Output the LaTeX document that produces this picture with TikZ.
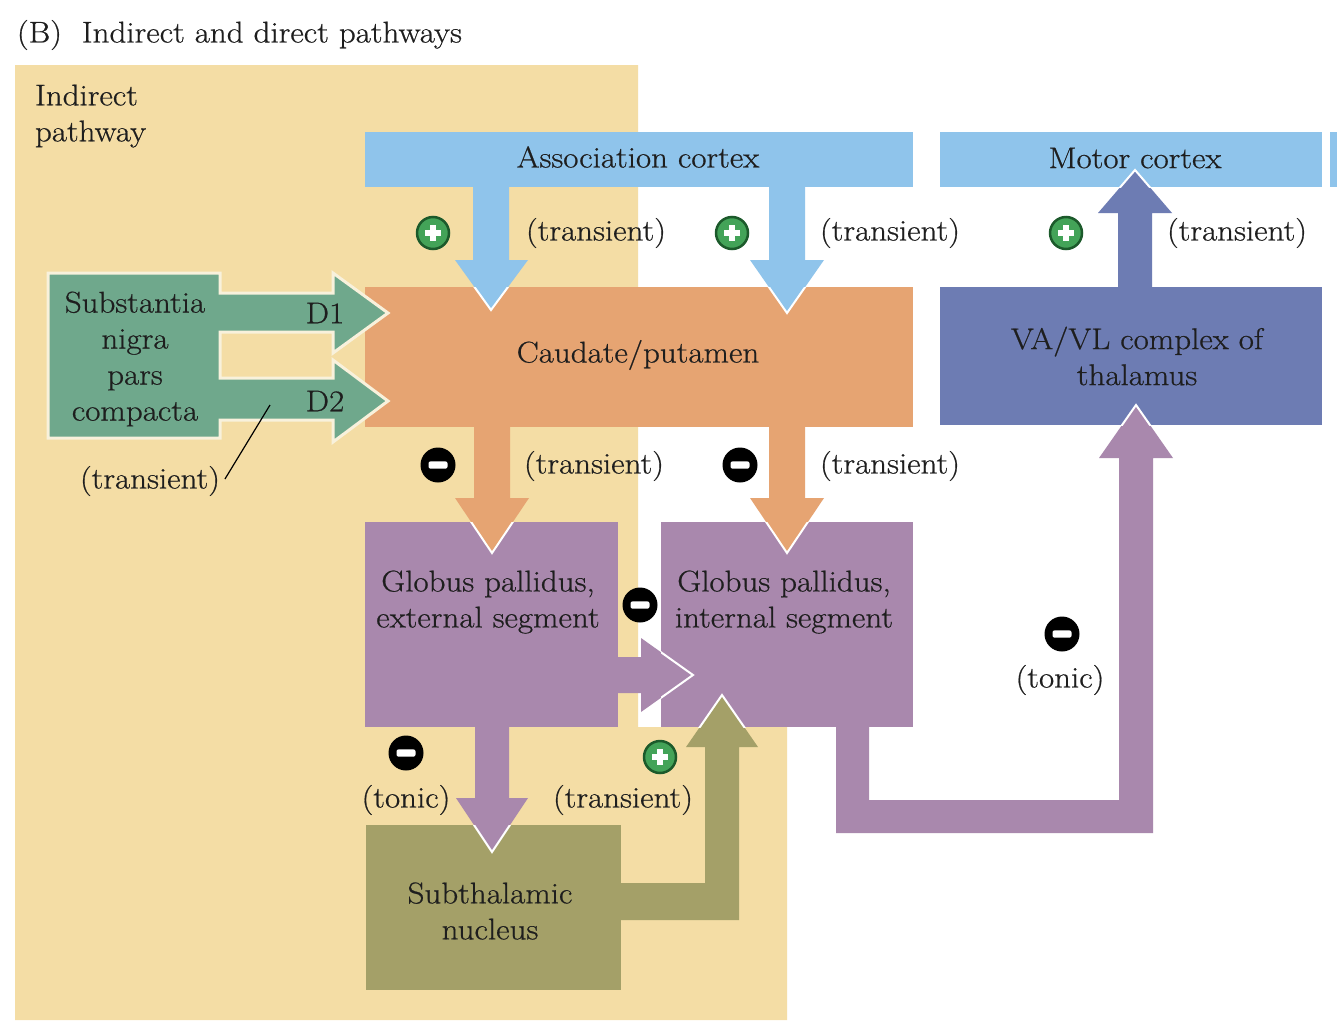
\documentclass[tikz,border=0pt]{standalone}
\usepackage{fontspec}
\setmainfont{Latin Modern Roman}[FakeStretch=1.1, FakeBold=0.6]
\usetikzlibrary{calc}
\definecolor{cTan}{HTML}{F4DDA5}
\definecolor{cBlue}{HTML}{8FC4EB}
\definecolor{cOrange}{HTML}{E6A472}
\definecolor{cPurple}{HTML}{A988AD}
\definecolor{cSlate}{HTML}{6D7CB3}
\definecolor{cGreen}{HTML}{6FA88C}
\definecolor{cOlive}{HTML}{A4A068}
\definecolor{cCream}{HTML}{F8F1DC}
\definecolor{cText}{HTML}{1E1E1E}
\definecolor{cGreenC}{HTML}{43A358}
\definecolor{cGreenD}{HTML}{1C5A2B}
\begin{document}
\begin{tikzpicture}[x=1pt,y=-1pt,
  every node/.style={inner sep=0pt, outer sep=0pt},
  lbl/.style={font=\fontsize{30}{36}\selectfont, text=cText, align=center},
  box/.style={rectangle, draw=none},
  edge/.style={white, line width=2pt, line join=miter},
  plusc/.style={circle, minimum size=32pt, fill=cGreenC, draw=cGreenD, line width=2.5pt,
    path picture={
      \fill[white] ($(path picture bounding box.center)+(-8,-3.2)$) rectangle ($(path picture bounding box.center)+(8,3.2)$);
      \fill[white] ($(path picture bounding box.center)+(-3.2,-8)$) rectangle ($(path picture bounding box.center)+(3.2,8)$);}},
  minusc/.style={circle, minimum size=35pt, fill=black,
    path picture={
      \fill[white, rounded corners=2pt] ($(path picture bounding box.center)+(-9.5,-3.6)$) rectangle ($(path picture bounding box.center)+(9.5,3.6)$);}}
]
\useasboundingbox (0,0) rectangle (1337,1020);
\fill[white] (0,0) rectangle (1337,1020);
% indirect pathway background
\fill[cTan] (15,65) -- (638,65) -- (638,727) -- (787,727) -- (787,1020) -- (15,1020) -- cycle;

% boxes
\node[box, fill=cBlue, minimum width=548pt, minimum height=55pt] (ac) at (639,159.5) {};
\node[box, fill=cBlue, minimum width=382pt, minimum height=55pt] (mc) at (1131,159.5) {};
\node[box, fill=cBlue, minimum width=8pt, minimum height=55pt] (mc2) at (1334,159.5) {};

% association cortex arrows
\fill[cBlue] (473,180) -- (509,180) -- (509,260) -- (528,260) -- (491,310) -- (455,260) -- (473,260) -- cycle;
\fill[cBlue] (769,180) -- (805,180) -- (805,260) -- (824,260) -- (787,313) -- (750,260) -- (769,260) -- cycle;

\node[box, fill=cOrange, minimum width=548pt, minimum height=140pt] (cp) at (639,357) {};
\node[box, fill=cSlate, minimum width=382pt, minimum height=138pt] (va) at (1131,356) {};

\begin{scope}
  \clip (cp.north west) rectangle (cp.south east);
  \fill[cBlue] (473,180) -- (509,180) -- (509,260) -- (528,260) -- (491,310) -- (455,260) -- (473,260) -- cycle;
  \fill[cBlue] (769,180) -- (805,180) -- (805,260) -- (824,260) -- (787,313) -- (750,260) -- (769,260) -- cycle;
  \draw[edge] (455,260) -- (491,310) -- (528,260);
  \draw[edge] (750,260) -- (787,313) -- (824,260);
\end{scope}

% VA/VL -> motor cortex
\fill[cSlate] (1118,295) -- (1118,213) -- (1098,213) -- (1135,170) -- (1172,213) -- (1152,213) -- (1152,295) -- cycle;
\begin{scope}
  \clip (mc.north west) rectangle (mc.south east);
  \draw[edge] (1098,213) -- (1135,170) -- (1172,213);
\end{scope}

% substantia nigra with D1 / D2 arrows
\filldraw[fill=cGreen, draw=cCream, line width=3pt, line join=miter]
  (48,273) -- (220,273) -- (220,293) -- (333,293) -- (333,273) -- (388,313) -- (333,353) -- (333,332)
  -- (220,332) -- (220,378) -- (333,378) -- (333,360) -- (388,401) -- (333,442) -- (333,420)
  -- (220,420) -- (220,438) -- (48,438) -- cycle;

% globus pallidus boxes
\node[box, fill=cPurple, minimum width=253pt, minimum height=205pt] (gpe) at (491.5,624.5) {};
\node[box, fill=cPurple, minimum width=252pt, minimum height=205pt] (gpi) at (787,624.5) {};

% caudate -> GP arrows
\fill[cOrange] (474,420) -- (510,420) -- (510,498) -- (529,498) -- (492,553) -- (455,498) -- (474,498) -- cycle;
\fill[cOrange] (769,420) -- (805,420) -- (805,498) -- (824,498) -- (787,553) -- (750,498) -- (769,498) -- cycle;
\begin{scope}
  \clip (gpe.north west) rectangle (gpe.south east);
  \draw[edge] (455,498) -- (492,553) -- (529,498);
\end{scope}
\begin{scope}
  \clip (gpi.north west) rectangle (gpi.south east);
  \draw[edge] (750,498) -- (787,553) -- (824,498);
\end{scope}

% GPe -> GPi
\fill[cPurple] (610,657) -- (641,657) -- (641,638) -- (693,675) -- (641,712) -- (641,693) -- (610,693) -- cycle;
\begin{scope}
  \clip (gpi.north west) rectangle (gpi.south east);
  \draw[edge] (641,638) -- (693,675) -- (641,712);
\end{scope}

% subthalamic nucleus
\node[box, fill=cOlive, minimum width=255pt, minimum height=165pt] (stn) at (493.5,907.5) {};

% GPe -> STN
\fill[cPurple] (475,720) -- (509,720) -- (509,798) -- (528,798) -- (492,852) -- (456,798) -- (475,798) -- cycle;
\begin{scope}
  \clip (stn.north west) rectangle (stn.south east);
  \draw[edge] (456,798) -- (492,852) -- (528,798);
\end{scope}

% STN -> GPi
\fill[cOlive] (615,883) -- (705,883) -- (705,747) -- (686,747) -- (722,695) -- (758,747) -- (739,747) -- (739,920) -- (615,920) -- cycle;
\begin{scope}
  \clip (gpi.north west) rectangle (gpi.south east);
  \draw[edge] (686,747) -- (722,695) -- (758,747);
\end{scope}

% GPi -> VA/VL
\fill[cPurple] (836,720) -- (836,833) -- (1153,833) -- (1153,458) -- (1173,458) -- (1136,405) -- (1099,458)
  -- (1119,458) -- (1119,800) -- (869,800) -- (869,720) -- cycle;
\begin{scope}
  \clip (va.north west) rectangle (va.south east);
  \draw[edge] (1099,458) -- (1136,405) -- (1173,458);
\end{scope}

% texts
\node[lbl, anchor=west] (title) at (17,35) {(B)\ \ Indirect and direct pathways};
\node[lbl, anchor=west, align=left] (ind) at (35,116) {Indirect\\pathway};
\node[lbl] (actext) at (638,157) {Association cortex};
\node[lbl] (mctext) at (1135,158) {Motor cortex};
\node[lbl] (cptext) at (638,355) {Caudate/putamen};
\node[lbl] (vatext) at (1137,356) {VA/VL complex of\\thalamus};
\node[lbl] (sntext) at (135,359) {Substantia\\nigra\\pars\\compacta};
\node[lbl] (d1) at (325,313) {D1};
\node[lbl] (d2) at (325,401) {D2};
\node[lbl] (gpetext) at (488,602) {Globus pallidus,\\external segment};
\node[lbl] (gpitext) at (784,602) {Globus pallidus,\\internal segment};
\node[lbl] (stntext) at (490,911) {Subthalamic\\nucleus};

\node[lbl] (t1) at (596,233) {(transient)};
\node[lbl] (t2) at (890,233) {(transient)};
\node[lbl] (t3) at (1237,233) {(transient)};
\node[lbl] (t4) at (594,466) {(transient)};
\node[lbl] (t5) at (890,466) {(transient)};
\node[lbl] (t6) at (623,800) {(transient)};
\node[lbl] (tsn) at (150,481) {(transient)};
\node[lbl] (tn1) at (406,800) {(tonic)};
\node[lbl] (tn2) at (1060,680) {(tonic)};

\coordinate (lead) at (270,405);
\draw[black, line width=1.2pt] ($(tsn.east)+(5,-2)$) -- (lead);

% signs
\node[plusc] (p1) at (433,233) {};
\node[plusc] (p2) at (732,233) {};
\node[plusc] (p3) at (1066,233) {};
\node[plusc] (p4) at (660,757) {};
\node[minusc] (m1) at (438,465) {};
\node[minusc] (m2) at (740,465) {};
\node[minusc] (m3) at (640,605) {};
\node[minusc] (m4) at (406,753) {};
\node[minusc] (m5) at (1062,634) {};
\end{tikzpicture}
\end{document}
